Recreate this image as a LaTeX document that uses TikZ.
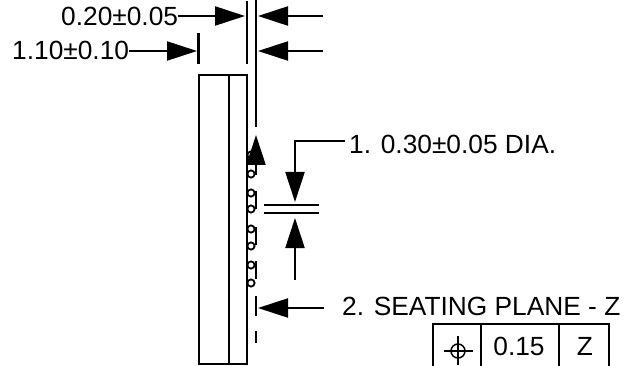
\documentclass[tikz,border=0pt]{standalone}
\usepackage{fontspec}
\setmainfont{Liberation Sans}
\usetikzlibrary{arrows.meta}
\tikzset{
  part/.style = {line width = 2.2pt},
  dim/.style = {line width = 2.2pt, -{Triangle[length = 30pt, width = 19pt]}, shorten >= 1pt},
  lab/.style = {inner sep = 0pt, anchor = base west, font = \fontsize{26.3}{30}\selectfont},
  cell/.style = {inner sep = 0pt, anchor = base, font = \fontsize{26.3}{30}\selectfont},
}

\begin{document}
\begin{tikzpicture} [x = 1pt, y = -1pt]
\useasboundingbox (0,0) rectangle (626,366);
% balls and leads
\foreach \ypos in {155,174,193,209,229,246,265,283}
  \draw [line width = 1.8pt, fill = white] (251,\ypos) circle (3.6);
\foreach \ytop/\ybot in {191/209,227/245,261/279}
  \draw [part] (256,\ytop) -- (256,\ybot);
% body of the package
\draw [part] (199,364) rectangle (247,75);
\draw [part] (229,75) -- (229,364);
% extension lines
\draw [part] (198.5,33) -- (198.5,64);
\draw [part] (247,1) -- (247,64);
\draw [part] (256,0) -- (256,127);
\draw [part] (256,296) -- (256,316);
\draw [part] (256,331) -- (256,343);
\draw [part] (264,205) -- (319,205);
\draw [part] (264,213) -- (319,213);
% labels
\node [lab] (w) at (61,26) {0.20±0.05};
\node [lab] (h) at (12,60) {1.10±0.10};
\node [lab] (d) at (349,154) {1. 0.30±0.05 DIA.};
\node [lab] (s) at (342,315) {2. SEATING PLANE - Z};
% free ends
\coordinate (w1) at (246,16);
\coordinate (w2) at (323,16);
\coordinate (w3) at (257,16);
\coordinate (h1) at (198,51);
\coordinate (h2) at (323,51);
\coordinate (h3) at (257,51);
\coordinate (b1) at (256,175);
\coordinate (b2) at (256,134);
\coordinate (d0) at (345,141);
\coordinate (d1) at (295,141);
\coordinate (d2) at (295,203);
\coordinate (d3) at (295,280);
\coordinate (d4) at (295,217);
\coordinate (s1) at (324,308);
\coordinate (s2) at (257,308);
\draw [dim] (w.east |- w1) -- (w1);
\draw [dim] (w2) -- (w3);
\draw [dim] (h.east |- h1) -- (h1);
\draw [dim] (h2) -- (h3);
\draw [dim] (b1) -- (b2);
\draw [dim] (d0) -- (d1) -- (d2);
\draw [dim] (d3) -- (d4);
\draw [dim] (s1) -- (s2);
% frame of the tolerance, cut off at the bottom
\draw [part] (433,366) -- (433,324) -- (609,324) -- (609,366);
\draw [part] (481,324) -- (481,366);
\draw [part] (559,324) -- (559,366);
\coordinate (sym) at (458,351);
\draw [line width = 1.5pt] (sym) circle (7);
\draw [line width = 1.5pt] (444,351) -- (473,351);
\draw [line width = 1.5pt] (458,336) -- (458,365);
\node [cell] (v) at (519,355) {0.15};
\node [cell] (z) at (585,355) {Z};
\end{tikzpicture}
\end{document}
